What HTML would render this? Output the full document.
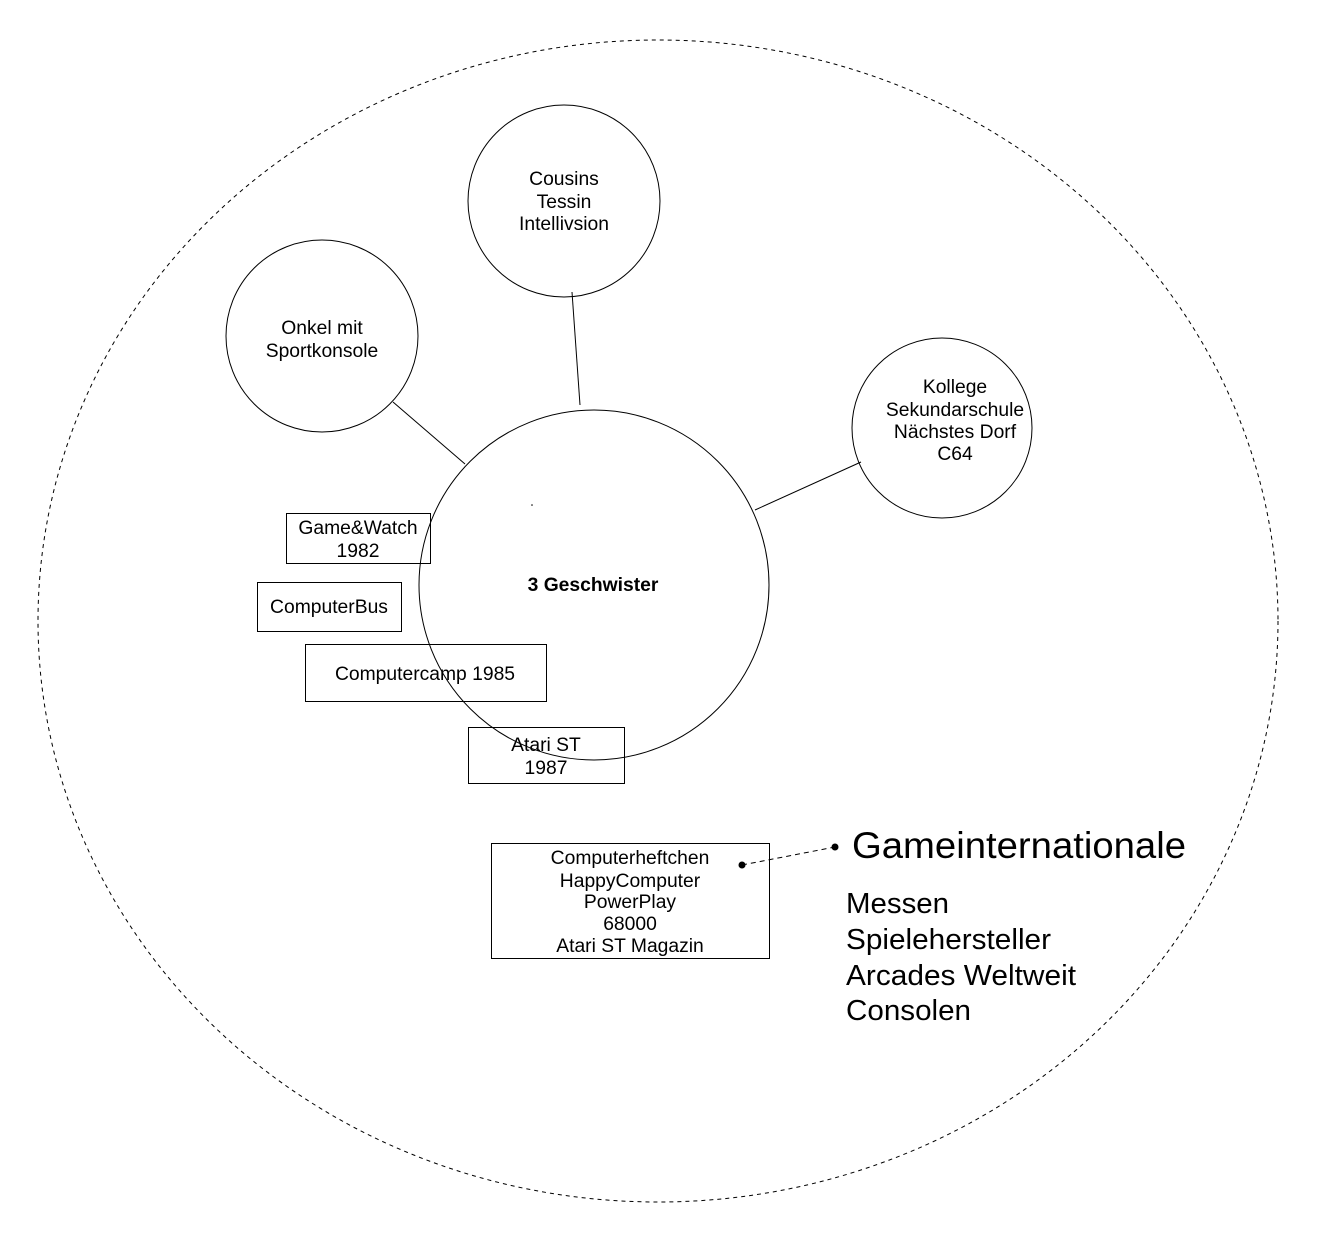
<!DOCTYPE html>
<html><head><meta charset="utf-8"><style>
html,body{margin:0;padding:0;background:#fff;}
svg{display:block}
text{font-family:"Liberation Sans",Helvetica,Arial,sans-serif;fill:#000}
</style></head><body>
<svg width="1326" height="1258" viewBox="0 0 1326 1258" xmlns="http://www.w3.org/2000/svg">
<ellipse cx="658" cy="621" rx="620" ry="581" fill="none" stroke="#000" stroke-width="1" stroke-dasharray="4,4"/>
<line x1="572" y1="292" x2="580" y2="405" stroke="#000"/>
<line x1="393" y1="402" x2="465" y2="464" stroke="#000"/>
<line x1="755" y1="510" x2="861" y2="462" stroke="#000"/>
<circle cx="594" cy="585" r="175" fill="none" stroke="#000"/>
<circle cx="564" cy="201" r="96" fill="none" stroke="#000"/>
<circle cx="322" cy="336" r="96" fill="none" stroke="#000"/>
<circle cx="942" cy="428" r="90" fill="none" stroke="#000"/>
<g font-size="19.3" text-anchor="middle">
<text x="564" y="185">Cousins</text><text x="564" y="208">Tessin</text><text x="564" y="230">Intellivsion</text>
<text x="322" y="334">Onkel mit</text><text x="322" y="357">Sportkonsole</text>
<text x="955" y="393">Kollege</text><text x="955" y="416">Sekundarschule</text><text x="955" y="438">Nächstes Dorf</text><text x="955" y="460">C64</text>
<text x="593" y="591" font-weight="bold">3 Geschwister</text>
</g>
<circle cx="532" cy="505" r="0.8" fill="#000"/>
<rect x="286.5" y="513.5" width="144" height="50" fill="none" stroke="#000"/>
<rect x="257.5" y="582.5" width="144" height="49" fill="none" stroke="#000"/>
<rect x="305.5" y="644.5" width="241" height="57" fill="none" stroke="#000"/>
<rect x="468.5" y="727.5" width="156" height="56" fill="none" stroke="#000"/>
<rect x="491.5" y="843.5" width="278" height="115" fill="none" stroke="#000"/>
<g font-size="19.3" text-anchor="middle">
<text x="358" y="534">Game&amp;Watch</text><text x="358" y="557">1982</text>
<text x="329" y="613">ComputerBus</text>
<text x="425" y="680">Computercamp 1985</text>
<text x="546" y="751">Atari ST</text><text x="546" y="774">1987</text>
<text x="630" y="864">Computerheftchen</text><text x="630" y="887">HappyComputer</text><text x="630" y="908">PowerPlay</text><text x="630" y="930">68000</text><text x="630" y="952">Atari ST Magazin</text>
</g>
<line x1="742" y1="865" x2="835" y2="847" stroke="#000" stroke-dasharray="5,4"/>
<circle cx="742" cy="865" r="3.5" fill="#000"/>
<circle cx="835" cy="847" r="3.5" fill="#000"/>
<text x="852" y="858" font-size="37.2" textLength="334" lengthAdjust="spacingAndGlyphs">Gameinternationale</text>
<g font-size="28.6">
<text x="846" y="913" textLength="103" lengthAdjust="spacingAndGlyphs">Messen</text><text x="846" y="949" textLength="205" lengthAdjust="spacingAndGlyphs">Spielehersteller</text><text x="846" y="985" textLength="230" lengthAdjust="spacingAndGlyphs">Arcades Weltweit</text><text x="846" y="1020" textLength="125" lengthAdjust="spacingAndGlyphs">Consolen</text>
</g>
</svg>
</body></html>
